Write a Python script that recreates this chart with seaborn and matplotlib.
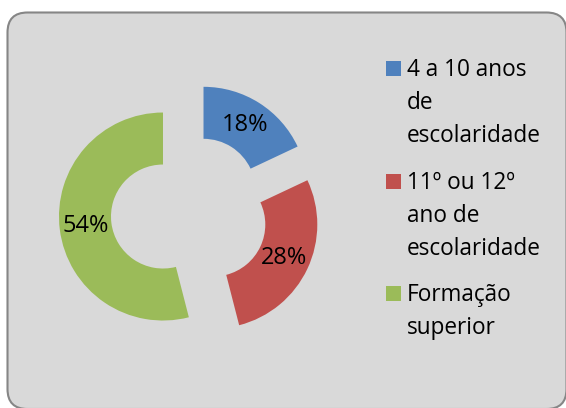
import matplotlib
matplotlib.use("Agg")

import matplotlib.pyplot as plt
from matplotlib.patches import FancyBboxPatch, Rectangle
from matplotlib.transforms import IdentityTransform
import seaborn as sns

# data
categories = ["4 a 10 anos\nde\nescolaridade",
              "11º ou 12º\nano de\nescolaridade",
              "Formação\nsuperior"]
shares = [18, 28, 54]
colors = ["#4F81BD", "#C0504D", "#9BBB59"]

sns.set_style("white")
plt.rcParams["font.family"] = ["Open Sans", "DejaVu Sans"]

W, H = 566, 408
fig = plt.figure(figsize=(W / 100, H / 100), dpi=100)
fig.patch.set_facecolor("white")

# rounded chart area (behind everything)
frame = FancyBboxPatch((7.5, -1), 559, 396.5,
                       boxstyle="round,pad=0,rounding_size=20",
                       facecolor="#D9D9D9", edgecolor="#868686",
                       linewidth=1.5, transform=IdentityTransform(),
                       zorder=-5)
fig.patches.append(frame)


def fx(px):
    return px / W


def fy(py):
    return 1 - py / H


# pie axes: center (189, 213) px, radius 104 px, limits +-1.5
cx, cy, r, lim = 189.3, 213.2, 104, 1.5
half = r * lim
ax = fig.add_axes([fx(cx - half), fy(cy + half), 2 * half / W, 2 * half / H])
ax.set_facecolor("none")
ax.set_zorder(2)

wedges, texts, autotexts = ax.pie(
    shares,
    colors=colors,
    startangle=90,
    counterclock=False,
    explode=[0.255] * len(shares),
    radius=1,
    wedgeprops=dict(width=0.5, linewidth=0),
    autopct="%d%%",
    pctdistance=0.75,
    textprops=dict(fontsize=17, color="black"),
)
ax.set_xlim(-lim, lim)
ax.set_ylim(-lim, lim)
ax.set_aspect("equal")
ax.axis("off")

# legend, drawn by hand so the square sits on the first line
first_baselines = [76, 189, 301]
line_gap = 33
for label, color, base in zip(categories, colors, first_baselines):
    fig.patches.append(Rectangle((fx(386), fy(base)), 15 / W, 15 / H,
                                 facecolor=color, edgecolor="none",
                                 transform=fig.transFigure, zorder=3))
    for i, line in enumerate(label.split("\n")):
        fig.text(fx(407), fy(base + i * line_gap), line,
                 fontsize=16.3, color="black", va="baseline", ha="left")

fig.savefig("out.png", dpi=100, facecolor="white")
